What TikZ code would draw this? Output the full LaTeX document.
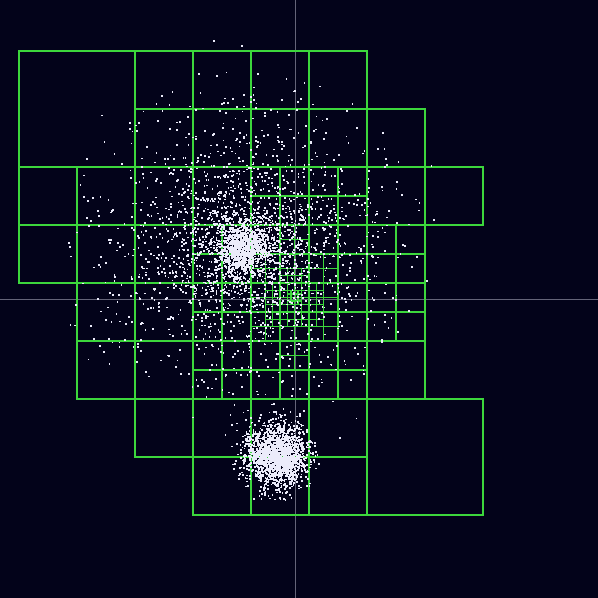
\documentclass[tikz,border=0pt]{standalone}
\definecolor{bg}{RGB}{3,3,26}
\definecolor{gridg}{RGB}{60,215,60}
\definecolor{crossc}{RGB}{100,100,120}
\definecolor{dotc}{RGB}{235,235,250}
\begin{document}
\begin{tikzpicture}[x=1pt,y=-1pt,
  cellbox/.style={color=gridg,draw=gridg,line width=1.3pt},
  hair/.style={color=crossc,draw=crossc,line width=0.8pt},
  dotbox/.style={color=dotc,fill=dotc}]
\fill[bg] (0,0) rectangle (598,598);
\useasboundingbox (0,0) rectangle (598,598);
% crosshair
\begin{scope}[hair]
\draw[hair] (295,0) -- (295,598);
\draw[hair] (0,299) -- (598,299);
\end{scope}
% quadtree cells
\begin{scope}[cellbox]
\foreach \x/\y in {19/51,367/399}
  \draw[cellbox] (\x,\y) rectangle ++(116,116);
\foreach \x/\y in {135/51,193/51,251/51,309/51,
  135/109,193/109,251/109,309/109,367/109,
  19/167,77/167,135/167,193/167,367/167,425/167,
  19/225,77/225,135/225,
  77/283,135/283,
  77/341,135/341,367/341,
  135/399,193/399,251/399,309/399,
  193/457,251/457,309/457}
  \draw[cellbox] (\x,\y) rectangle ++(58,58);
\foreach \x/\y in {251/167,280/167,251/196,280/196,
  309/167,338/167,309/196,338/196,
  193/225,222/225,193/254,222/254,
  251/225,
  309/225,338/225,338/254,
  367/225,396/225,367/254,396/254,
  193/283,222/283,193/312,222/312,
  338/283,338/312,
  367/283,396/283,367/312,396/312,
  193/341,222/341,193/370,222/370,
  251/341,251/370,280/370,
  309/341,338/341,309/370,338/370}
  \draw[cellbox] (\x,\y) rectangle ++(29,29);
\foreach \x/\y in {251/254,265.5/254,251/268.5,265.5/268.5,
  251/283,251/297.5,
  251/312,251/326.5,265.5/326.5,
  280/225,294.5/225,280/239.5,294.5/239.5,
  280/254,294.5/254,
  280/326.5,294.5/326.5,
  280/341,294.5/341,280/355.5,294.5/355.5,
  309/254,323.5/254,309/268.5,323.5/268.5,
  323.5/283,323.5/297.5,
  323.5/312,309/326.5,323.5/326.5}
  \draw[cellbox] (\x,\y) rectangle ++(14.5,14.5);
\foreach \x/\y in {265.5/283,265.5/297.5,265.5/312,
  280/268.5,280/283,280/297.5,280/312,
  294.5/268.5,294.5/283,294.5/297.5,294.5/312,
  309/283,309/297.5,309/312}{
  \draw[cellbox] (\x,\y) rectangle ++(14.5,14.5);
  \draw[cellbox] (\x,\y) ++(7.25,0) -- ++(0,14.5);
  \draw[cellbox] (\x,\y) ++(0,7.25) -- ++(14.5,0);
}
\foreach \x/\y in {287.25/290.25,294.5/290.25,287.25/297.5,294.5/297.5}{
  \draw[cellbox] (\x,\y) ++(3.625,0) -- ++(0,7.25);
  \draw[cellbox] (\x,\y) ++(0,3.625) -- ++(7.25,0);
}
\end{scope}
% particles
\begin{scope}[dotbox]
\pgfmathsetseed{7}
\foreach \i in {1,...,2300}{
  \pgfmathsetmacro\myu{rnd*0.82}
  \pgfmathsetmacro\myr{85*sqrt(\myu/(1-\myu))}
  \pgfmathsetmacro\myt{rnd*360}
  \fill[dotbox] ({244+\myr*cos(\myt)},{247+\myr*sin(\myt)}) rectangle ++(1.7,1.7);
}
\foreach \i in {1,...,12}{
  \pgfmathsetmacro\myu{0.82+rnd*0.05}
  \pgfmathsetmacro\myr{85*sqrt(\myu/(1-\myu))}
  \pgfmathsetmacro\myt{rnd*360}
  \fill[dotbox] ({244+\myr*cos(\myt)},{247+\myr*sin(\myt)}) rectangle ++(1.7,1.7);
}
\foreach \i in {1,...,1000}{
  \pgfmathsetmacro\myr{13*sqrt(-2*ln(rnd*0.999+0.0005))}
  \pgfmathsetmacro\myt{rnd*360}
  \fill[dotbox] ({244+\myr*cos(\myt)},{247+\myr*sin(\myt)}) rectangle ++(1.7,1.7);
}
\foreach \i in {1,...,1800}{
  \pgfmathsetmacro\myr{16*sqrt(-2*ln(rnd*0.999+0.0005))}
  \pgfmathsetmacro\myt{rnd*360}
  \fill[dotbox] ({276+\myr*cos(\myt)},{455+\myr*sin(\myt)}) rectangle ++(1.7,1.7);
}
\end{scope}
\end{tikzpicture}
\end{document}
